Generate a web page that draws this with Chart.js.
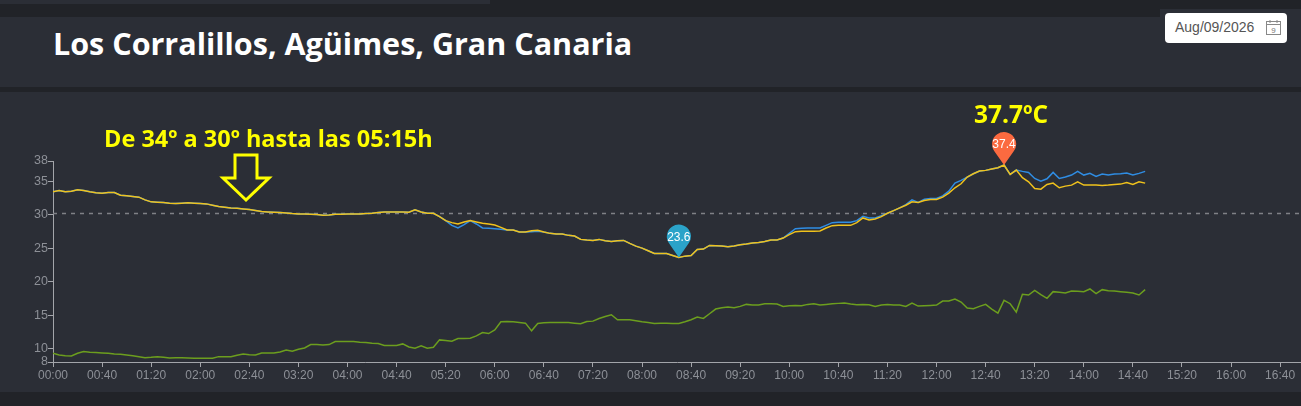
<!DOCTYPE html>
<html>
<head>
<meta charset="utf-8">
<script src="https://cdn.jsdelivr.net/npm/chart.js@4/dist/chart.umd.min.js"></script>
<style>
  body { margin:0; width:1301px; height:406px; overflow:hidden; position:relative; background:#212328; font-family:"Open Sans", sans-serif; }
  .panel { position:absolute; background:#2b2e36; }
  #title { position:absolute; left:53px; top:23px; margin:0; color:#fff; font-size:30.5px; font-weight:700; line-height:40px; white-space:nowrap; }
  #datebox { position:absolute; left:1165px; top:13px; width:122px; height:30px; background:#fff; border-radius:4px; box-sizing:border-box; }
  #datebox span { position:absolute; left:10px; top:6px; font:14px "Liberation Sans", Arial, sans-serif; color:#555; }
  #datebox svg { position:absolute; left:100px; top:6px; }
  .note { position:absolute; color:#ffff00; font-weight:700; white-space:nowrap; }
  #chartWrap { position:absolute; left:0; top:0; width:1301px; height:406px; }
</style>
</head>
<body>
<div class="panel" style="left:0;top:0;width:490px;height:4px"></div>
<div class="panel" style="left:1160px;top:9px;width:141px;height:10px"></div>
<div class="panel" style="left:0;top:17px;width:1301px;height:70px"></div>
<div class="panel" style="left:0;top:92px;width:1301px;height:300px"></div>
<h1 id="title">Los Corralillos, Agüimes, Gran Canaria</h1>
<div id="datebox"><span>Aug/09/2026</span>
  <svg width="17" height="17" viewBox="0 0 17 17"><rect x="1.5" y="2.5" width="14" height="13" fill="none" stroke="#888" stroke-width="1"/><line x1="1.5" y1="5.5" x2="15.5" y2="5.5" stroke="#888"/><line x1="5" y1="1" x2="5" y2="4" stroke="#888"/><line x1="12" y1="1" x2="12" y2="4" stroke="#888"/><text x="8.5" y="13.5" font-size="8" text-anchor="middle" fill="#777" font-family="Liberation Sans, Arial">9</text></svg>
</div>
<div id="chartWrap"><canvas id="myChart" width="1301" height="406"></canvas></div>
<div class="note" style="left:104px;top:122px;font-size:23.5px;line-height:32px">De 34º a 30º hasta las 05:15h</div>
<div class="note" style="left:974px;top:98px;font-size:24.5px;line-height:32px">37.7ºC</div>
<svg style="position:absolute;left:0;top:0" width="1301" height="406"><path d="M235 155 L257 155 L257 178 L269 178 L246 200 L223 178 L235 178 Z" fill="none" stroke="#ffff00" stroke-width="3"/></svg>
<script>
// 5-minute readings from 00:00 to 14:50
const stepMin = 5;
const tempYellow = [
  33.4, 33.6, 33.4, 33.5, 33.7, 33.6, 33.4, 33.25, 33.2, 33.3, 33.3, 32.9,
  32.8, 32.7, 32.6, 32.2, 31.9, 31.85, 31.8, 31.7, 31.65, 31.7, 31.75, 31.7,
  31.65, 31.6, 31.4, 31.2, 31.1, 31.0, 30.95, 30.85, 30.75, 30.6, 30.45, 30.4,
  30.35, 30.3, 30.25, 30.15, 30.1, 30.1, 30.05, 30.0, 29.9, 29.95, 30.05, 30.05,
  30.1, 30.1, 30.1, 30.15, 30.2, 30.3, 30.4, 30.4, 30.4, 30.4, 30.35, 30.7,
  30.4, 30.2, 30.2, 29.7, 29.1, 28.8, 28.6, 28.9, 29.1, 28.9, 28.7, 28.6,
  28.45, 28.1, 27.7, 27.7, 27.4, 27.4, 27.6, 27.65, 27.4, 27.2, 27.1, 27.1,
  26.9, 26.8, 26.3, 26.2, 26.15, 26.3, 26.1, 26.0, 26.1, 26.15, 25.7, 25.3,
  25.0, 24.6, 24.2, 24.2, 24.2, 23.9, 23.6, 23.8, 23.9, 24.8, 24.85, 25.4,
  25.35, 25.3, 25.2, 25.3, 25.5, 25.6, 25.75, 25.85, 26.0, 26.2, 26.2, 26.5,
  27.0, 27.45, 27.5, 27.5, 27.5, 27.55, 28.0, 28.35, 28.4, 28.4, 28.4, 28.8,
  29.5, 29.2, 29.35, 29.7, 30.2, 30.6, 31.0, 31.4, 31.9, 31.8, 32.1, 32.25,
  32.25, 32.6, 33.2, 34.0, 34.6, 35.6, 36.1, 36.5, 36.6, 36.8, 37.0, 37.4,
  36.0, 36.65, 35.5, 34.9, 33.9, 33.8, 34.5, 34.7, 34.0, 34.25, 34.4, 34.9,
  34.4, 34.4, 34.4, 34.35, 34.4, 34.5, 34.55, 34.8, 34.5, 34.9, 34.7
];
const tempBlue = [
  33.4, 33.6, 33.4, 33.5, 33.7, 33.6, 33.4, 33.25, 33.2, 33.3, 33.3, 32.9,
  32.8, 32.7, 32.6, 32.2, 31.9, 31.85, 31.8, 31.7, 31.65, 31.7, 31.75, 31.7,
  31.65, 31.6, 31.4, 31.2, 31.1, 31.0, 30.95, 30.85, 30.75, 30.6, 30.45, 30.4,
  30.35, 30.3, 30.25, 30.15, 30.1, 30.1, 30.05, 30.0, 29.9, 29.95, 30.05, 30.05,
  30.1, 30.1, 30.1, 30.15, 30.2, 30.3, 30.4, 30.4, 30.4, 30.4, 30.35, 30.7,
  30.4, 30.2, 30.2, 29.7, 29.1, 28.4, 28.0, 28.5, 29.1, 28.6, 28.0, 27.95,
  27.9, 27.8, 27.7, 27.7, 27.4, 27.4, 27.45, 27.5, 27.4, 27.2, 27.1, 27.1,
  26.9, 26.8, 26.3, 26.2, 26.15, 26.3, 26.1, 26.0, 26.1, 26.15, 25.7, 25.3,
  25.0, 24.6, 24.2, 24.2, 24.2, 23.9, 23.6, 23.8, 23.9, 24.8, 24.85, 25.4,
  25.35, 25.3, 25.2, 25.3, 25.5, 25.6, 25.75, 25.85, 26.0, 26.2, 26.2, 26.5,
  27.2, 27.9, 27.95, 28.0, 28.0, 28.0, 28.4, 28.8, 28.85, 28.85, 28.85, 29.1,
  29.75, 29.5, 29.5, 29.85, 30.2, 30.6, 31.0, 31.5, 32.2, 31.8, 32.3, 32.4,
  32.4, 32.8, 33.5, 34.7, 35.1, 35.6, 36.1, 36.5, 36.6, 36.8, 37.0, 37.4,
  36.0, 36.65, 36.45, 36.3, 35.4, 35.0, 35.35, 36.3, 35.4, 35.6, 35.9, 36.45,
  35.9, 36.15, 35.7, 36.05, 35.9, 36.05, 36.1, 36.2, 35.9, 36.15, 36.45
];
const tempGreen = [
  9.3, 9.05, 8.95, 8.9, 9.3, 9.55, 9.45, 9.4, 9.35, 9.3, 9.2, 9.15,
  9.05, 8.95, 8.8, 8.65, 8.7, 8.8, 8.7, 8.6, 8.65, 8.65, 8.6, 8.55,
  8.55, 8.55, 8.55, 8.8, 8.8, 8.8, 9.0, 9.2, 9.1, 9.05, 9.35, 9.35,
  9.35, 9.5, 9.8, 9.6, 9.9, 10.1, 10.6, 10.6, 10.55, 10.6, 11.05, 11.05,
  11.05, 11.05, 10.95, 10.9, 10.8, 10.75, 10.45, 10.45, 10.45, 10.7, 10.25, 10.05,
  10.4, 10.05, 10.2, 11.3, 11.2, 11.1, 11.5, 11.5, 11.55, 11.9, 12.4, 12.25,
  12.8, 14.0, 14.05, 14.0, 13.9, 13.8, 12.65, 13.75, 13.85, 13.9, 13.9, 13.9,
  13.9, 13.8, 13.7, 14.05, 14.1, 14.5, 14.8, 15.05, 14.3, 14.3, 14.3, 14.15,
  14.0, 13.9, 13.75, 13.8, 13.8, 13.75, 13.75, 14.0, 14.3, 14.7, 14.5, 15.2,
  15.9, 16.1, 16.2, 16.1, 16.3, 16.6, 16.5, 16.5, 16.7, 16.7, 16.65, 16.3,
  16.4, 16.45, 16.4, 16.6, 16.7, 16.5, 16.6, 16.7, 16.75, 16.8, 16.65, 16.55,
  16.6, 16.55, 16.3, 16.5, 16.6, 16.5, 16.5, 16.3, 16.8, 16.35, 16.4, 16.45,
  16.5, 17.1, 17.1, 17.4, 16.95, 16.05, 15.95, 16.3, 16.6, 15.9, 15.3, 17.2,
  16.7, 15.45, 18.1, 18.0, 18.7, 18.05, 17.5, 18.5, 18.4, 18.3, 18.6, 18.55,
  18.5, 18.9, 18.2, 18.8, 18.65, 18.6, 18.5, 18.4, 18.3, 18.0, 18.8
];
const xTickLabels = ["00:00","00:40","01:20","02:00","02:40","03:20","04:00","04:40","05:20","06:00",
  "06:40","07:20","08:00","08:40","09:20","10:00","10:40","11:20","12:00","12:40","13:20","14:00",
  "14:40","15:20","16:00","16:40"];
const yTicks = [8, 10, 15, 20, 25, 30, 35, 38];
const refLine = 30.2;

function toMin(s){ const p = s.split(':'); return (+p[0]) * 60 + (+p[1]); }
function fmt(m){ const h = Math.floor(m / 60), mm = m % 60; return String(h).padStart(2,'0') + ':' + String(mm).padStart(2,'0'); }
function pts(arr){ return arr.map((v, i) => ({x: i * stepMin, y: v})); }

function drawPin(ctx, px, py, color, label){
  const d = 21, r = 12;
  const cx = px, cy = py - d;
  const b = Math.acos(r / d);
  ctx.beginPath();
  ctx.moveTo(px, py);
  ctx.arc(cx, cy, r, Math.PI / 2 + b, Math.PI * 2 + Math.PI / 2 - b);
  ctx.closePath();
  ctx.fillStyle = color;
  ctx.fill();
  ctx.fillStyle = '#fff';
  ctx.font = '12px "Liberation Sans", Arial, sans-serif';
  ctx.textAlign = 'center';
  ctx.textBaseline = 'middle';
  ctx.fillText(label, cx, cy + 1);
}

const overlay = {
  id: 'overlay',
  beforeDatasetsDraw(chart){
    const {ctx, chartArea, scales} = chart;
    const yy = Math.round(scales.y.getPixelForValue(refLine)) + 0.5;
    ctx.save();
    ctx.strokeStyle = '#7f8186';
    ctx.lineWidth = 1.5;
    ctx.setLineDash([4, 5]);
    ctx.beginPath();
    ctx.moveTo(chartArea.left, yy);
    ctx.lineTo(chartArea.right, yy);
    ctx.stroke();
    ctx.restore();
  },
  afterDatasetsDraw(chart){
    const {ctx, scales} = chart;
    const maxV = Math.max(...tempYellow), minV = Math.min(...tempYellow);
    const iMax = tempYellow.indexOf(maxV), iMin = tempYellow.indexOf(minV);
    ctx.save();
    drawPin(ctx, scales.x.getPixelForValue(iMax * stepMin), scales.y.getPixelForValue(maxV), '#fb6a40', maxV.toFixed(1));
    drawPin(ctx, scales.x.getPixelForValue(iMin * stepMin), scales.y.getPixelForValue(minV), '#2ba3c9', minV.toFixed(1));
    ctx.restore();
  }
};

new Chart(document.getElementById("myChart"), {
  type: 'line',
  data: {
    datasets: [
      { label: 'T', data: pts(tempYellow), borderColor: '#f0c21c', borderWidth: 1.5 },
      { label: 'Tmax', data: pts(tempBlue), borderColor: '#2f8de4', borderWidth: 1.5 },
      { label: 'Td', data: pts(tempGreen), borderColor: '#6c9e1e', borderWidth: 1.5 }
    ]
  },
  options: {
    responsive: false,
    animation: false,
    elements: { point: { radius: 0 }, line: { tension: 0 } },
    layout: { padding: { top: 161, left: 0, right: 0, bottom: 0 } },
    plugins: { legend: { display: false }, tooltip: { enabled: false } },
    scales: {
      x: {
        type: 'linear', min: 0, max: 1017,
        afterBuildTicks(s){ s.ticks = xTickLabels.map(l => ({value: toMin(l)})); },
        afterFit(s){ s.height = 44; },
        ticks: { color: '#8d9097', font: { size: 12 }, padding: 1, maxRotation: 0, autoSkip: false, callback: v => fmt(v) },
        grid: { drawOnChartArea: false, color: '#a3a5aa', tickLength: 5 },
        border: { color: '#a3a5aa' }
      },
      y: {
        min: 8, max: 38,
        afterBuildTicks(s){ s.ticks = yTicks.map(v => ({value: v})); },
        afterFit(s){ s.width = 53; },
        ticks: { color: '#8d9097', font: { size: 12.5 }, padding: 0, autoSkip: false },
        grid: { drawOnChartArea: false, color: '#a3a5aa', tickLength: 5 },
        border: { color: '#a3a5aa' }
      }
    }
  },
  plugins: [overlay]
});
</script>
</body>
</html>
